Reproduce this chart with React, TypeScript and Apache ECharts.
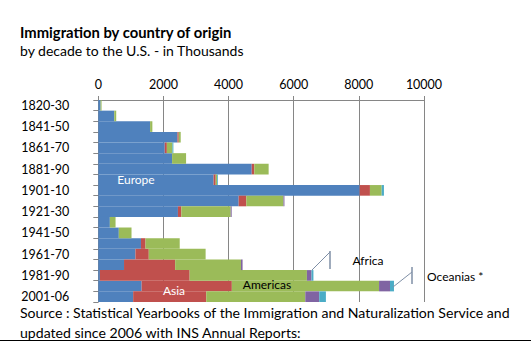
import React, { useEffect, useRef } from "react";
import * as echarts from "echarts";

const categories = ["1820-30","1831-40","1841-50","1851-60","1861-70","1871-80","1881-90","1891-1900","1901-10","1911-20","1921-30","1931-40","1941-50","1951-60","1961-70","1971-80","1981-90","1991-2000","2001-06"];
const europe   = [70, 490, 1590, 2430, 2040, 2265, 4710, 3540, 8025, 4310, 2445, 355, 630, 1310, 1140, 790, 50, 1330, 1070];
const asia     = [0, 0, 0, 40, 65, 0, 80, 65, 315, 235, 105, 0, 0, 140, 410, 1570, 2755, 2770, 2245];
const americas = [30, 60, 70, 60, 170, 430, 440, 40, 360, 1140, 1515, 175, 390, 1050, 1745, 2020, 3600, 4520, 3040];
const africa   = [0, 0, 0, 0, 0, 0, 0, 0, 0, 30, 30, 0, 0, 0, 0, 50, 140, 336, 428];
const oceania  = [0, 0, 0, 0, 30, 0, 0, 25, 70, 0, 0, 0, 0, 0, 0, 0, 60, 122, 205];

const FONT = "Lato, 'Open Sans', sans-serif";
const GRID_COLOR = "#868686";
const LEADER = "#7f8fa6";

export default function App() {
  const ref = useRef<HTMLDivElement>(null);
  useEffect(() => {
    const chart = echarts.init(ref.current!, null, { renderer: "svg" });
    const mk = (name: string, data: number[], color: string) => ({
      name,
      type: "bar",
      stack: "total",
      data,
      barCategoryGap: "0%",
      itemStyle: { color },
    });
    const t = (text: string, x: number, y: number, fill: string, align = "center", size = 12) => ({
      type: "text",
      z: 100,
      x,
      y,
      style: { text, font: `${size}px ${FONT}`, fill, align, verticalAlign: "middle" },
    });
    chart.setOption({
      animation: false,
      backgroundColor: "#ffffff",
      textStyle: { fontFamily: FONT },
      grid: { left: 98.3, right: 107, top: 100, height: 202 },
      xAxis: {
        type: "value",
        position: "top",
        min: 0,
        max: 10000,
        interval: 2000,
        axisLine: { show: true, lineStyle: { color: GRID_COLOR, width: 1 } },
        axisTick: { show: true, length: 4, lineStyle: { color: GRID_COLOR } },
        axisLabel: { color: "#000", fontSize: 12.5, fontFamily: FONT, margin: 9, formatter: (v: number) => String(v) },
        splitLine: { show: true, lineStyle: { color: GRID_COLOR, width: 1 } },
      },
      yAxis: {
        type: "category",
        inverse: true,
        data: categories,
        axisLine: { show: true, lineStyle: { color: GRID_COLOR, width: 1 } },
        axisTick: { show: true, length: 5, interval: 0, lineStyle: { color: GRID_COLOR } },
        axisLabel: { color: "#000", fontSize: 12.5, fontFamily: FONT, interval: 1, margin: 29 },
      },
      series: [
        mk("Europe", europe, "#4F81BD"),
        mk("Asia", asia, "#C0504D"),
        mk("Americas", americas, "#9BBB59"),
        mk("Africa", africa, "#8064A2"),
        mk("Oceanias", oceania, "#4BACC6"),
      ],
      graphic: [
        { type: "text", z: 100, left: 20, top: 24, style: { text: "Immigration by country of origin", font: `bold 14.8px ${FONT}`, fill: "#000" } },
        { type: "text", z: 100, left: 20, top: 43, style: { text: "by decade to the U.S. - in Thousands", font: `14px ${FONT}`, fill: "#000" } },
        { type: "text", z: 100, left: 20, top: 305, style: { text: "Source : Statistical Yearbooks of the Immigration and Naturalization Service and", font: `14.1px ${FONT}`, fill: "#000" } },
        { type: "text", z: 100, left: 20, top: 325, style: { text: "updated since 2006 with INS Annual Reports:", font: `14.1px ${FONT}`, fill: "#000" } },
        t("Europe", 136, 179, "#fff"),
        t("Asia", 174, 290, "#fff"),
        t("Americas", 267, 284, "#000"),
        t("Africa", 368, 260, "#000"),
        t("Oceanias *", 427, 276, "#000", "left"),
        { type: "line", z: 100, shape: { x1: 312, y1: 270, x2: 330, y2: 252 }, style: { stroke: LEADER, lineWidth: 1 } },
        { type: "line", z: 100, shape: { x1: 330, y1: 251, x2: 330, y2: 269 }, style: { stroke: LEADER, lineWidth: 1.5 } },
        { type: "line", z: 100, shape: { x1: 393, y1: 287, x2: 412, y2: 272 }, style: { stroke: LEADER, lineWidth: 1 } },
        { type: "line", z: 100, shape: { x1: 412, y1: 267, x2: 412, y2: 284 }, style: { stroke: LEADER, lineWidth: 1.5 } },
        { type: "line", z: 100, shape: { x1: 0, y1: 340.5, x2: 531, y2: 340.5 }, style: { stroke: "#000", lineWidth: 1 } },
      ],
    });
    return () => chart.dispose();
  }, []);
  return <div ref={ref} style={{ position: "fixed", left: 0, top: 0, width: 531, height: 341 }} />;
}
